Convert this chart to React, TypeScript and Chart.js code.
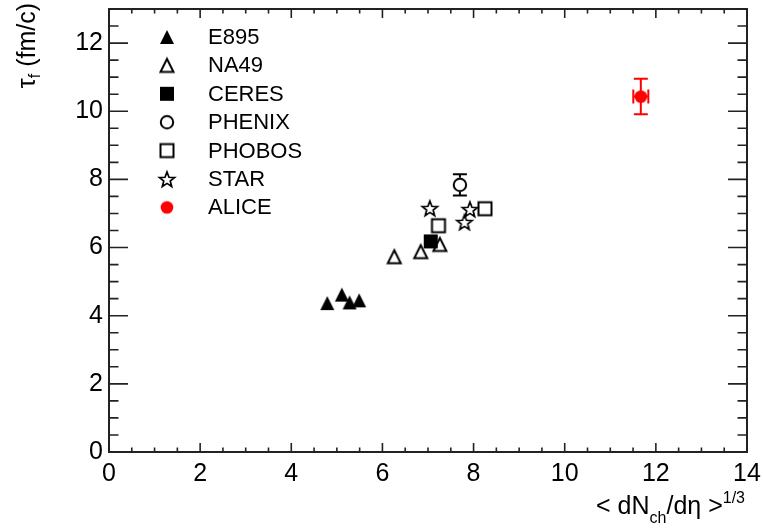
import React, { useEffect, useRef } from 'react';
import { Chart, registerables } from 'chart.js';

Chart.register(...registerables);

const FONT = '"Liberation Sans", Arial, Helvetica, sans-serif';

// ---- data ----
const e895X = [4.79, 5.11, 5.28, 5.49];
const e895Y = [4.37, 4.62, 4.39, 4.45];
const na49X = [6.26, 6.84, 7.26];
const na49Y = [5.73, 5.88, 6.09];
const ceresX = [7.06];
const ceresY = [6.18];
const phenixX = [7.7];
const phenixY = [7.84];
const phenixErrY = [0.31];
const phobosX = [7.23, 8.25];
const phobosY = [6.64, 7.14];
const starX = [7.04, 7.92, 7.8];
const starY = [7.16, 7.13, 6.75];
const aliceX = [11.67];
const aliceY = [10.43];
const aliceErrX = [0.165];
const aliceErrY = [0.52];

const legendLabels = ['E895', 'NA49', 'CERES', 'PHENIX', 'PHOBOS', 'STAR', 'ALICE'];
const xTickValues = [0, 2, 4, 6, 8, 10, 12, 14];
const yTickValues = [0, 2, 4, 6, 8, 10, 12];

type MarkerKind = 'triFilled' | 'triOpen' | 'sqFilled' | 'circOpen' | 'sqOpen' | 'starOpen' | 'circRed';

function makeMarker(kind: MarkerKind): HTMLCanvasElement {
  const S = 24;
  const c = document.createElement('canvas');
  c.width = S;
  c.height = S;
  const ctx = c.getContext('2d') as CanvasRenderingContext2D;
  const m = S / 2;
  ctx.lineWidth = 2;
  ctx.strokeStyle = '#000';
  ctx.fillStyle = '#000';
  ctx.lineJoin = 'miter';
  switch (kind) {
    case 'triFilled': {
      const s = 7;
      ctx.beginPath();
      ctx.moveTo(m, m - s);
      ctx.lineTo(m + s, m + s);
      ctx.lineTo(m - s, m + s);
      ctx.closePath();
      ctx.fill();
      break;
    }
    case 'triOpen': {
      const s = 6.5;
      ctx.beginPath();
      ctx.moveTo(m, m - s);
      ctx.lineTo(m + s, m + s);
      ctx.lineTo(m - s, m + s);
      ctx.closePath();
      ctx.stroke();
      break;
    }
    case 'sqFilled': {
      const s = 7;
      ctx.fillRect(m - s, m - s, 2 * s, 2 * s);
      break;
    }
    case 'circOpen': {
      ctx.beginPath();
      ctx.arc(m, m, 6.2, 0, Math.PI * 2);
      ctx.stroke();
      break;
    }
    case 'sqOpen': {
      const s = 6.5;
      ctx.strokeRect(m - s, m - s, 2 * s, 2 * s);
      break;
    }
    case 'starOpen': {
      const ro = 8;
      const ri = 3.4;
      ctx.beginPath();
      for (let i = 0; i < 10; i++) {
        const r = i % 2 === 0 ? ro : ri;
        const a = -Math.PI / 2 + (i * Math.PI) / 5;
        const px = m + r * Math.cos(a);
        const py = m + 1 + r * Math.sin(a);
        if (i === 0) ctx.moveTo(px, py);
        else ctx.lineTo(px, py);
      }
      ctx.closePath();
      ctx.lineWidth = 1.7;
      ctx.stroke();
      break;
    }
    case 'circRed': {
      ctx.fillStyle = '#ff0000';
      ctx.beginPath();
      ctx.arc(m, m, 6.3, 0, Math.PI * 2);
      ctx.fill();
      break;
    }
  }
  return c;
}

const toPts = (xs: number[], ys: number[]) => xs.map((x, i) => ({ x, y: ys[i] }));

const framePlugin = {
  id: 'rootFrame',
  beforeDatasetsDraw(chart: any) {
    const { ctx, chartArea: a, scales } = chart;
    const xs = scales.x;
    const ys = scales.y;
    ctx.save();
    ctx.strokeStyle = '#222';
    ctx.lineWidth = 2;
    ctx.strokeRect(a.left, a.top, a.right - a.left, a.bottom - a.top);
    ctx.lineWidth = 1.6;
    ctx.beginPath();
    for (let v = 0; v <= 14.0001; v += 0.5) {
      const px = xs.getPixelForValue(v);
      const major = Math.abs(v / 2 - Math.round(v / 2)) < 1e-6;
      const len = major ? 9 : 4.5;
      ctx.moveTo(px, a.bottom);
      ctx.lineTo(px, a.bottom - len);
      ctx.moveTo(px, a.top);
      ctx.lineTo(px, a.top + len);
    }
    for (let v = 0; v <= 13.0001; v += 0.5) {
      const py = ys.getPixelForValue(v);
      const major = Math.abs(v / 2 - Math.round(v / 2)) < 1e-6;
      const len = major ? 19 : 9.5;
      ctx.moveTo(a.left, py);
      ctx.lineTo(a.left + len, py);
      ctx.moveTo(a.right, py);
      ctx.lineTo(a.right - len, py);
    }
    ctx.stroke();
    ctx.restore();
  },
};

const errorPlugin = {
  id: 'errBars',
  afterDatasetsDraw(chart: any) {
    const { ctx, scales } = chart;
    const xs = scales.x;
    const ys = scales.y;
    const drawV = (x: number, y: number, e: number, color: string, half: number) => {
      const px = xs.getPixelForValue(x);
      const py = ys.getPixelForValue(y);
      const top = ys.getPixelForValue(y + e);
      const bot = ys.getPixelForValue(y - e);
      ctx.strokeStyle = color;
      ctx.lineWidth = 2;
      ctx.beginPath();
      ctx.moveTo(px, py - half);
      ctx.lineTo(px, top);
      ctx.moveTo(px, py + half);
      ctx.lineTo(px, bot);
      ctx.moveTo(px - 7, top);
      ctx.lineTo(px + 7, top);
      ctx.moveTo(px - 7, bot);
      ctx.lineTo(px + 7, bot);
      ctx.stroke();
    };
    const drawH = (x: number, y: number, e: number, color: string, half: number) => {
      const px = xs.getPixelForValue(x);
      const py = ys.getPixelForValue(y);
      const l = xs.getPixelForValue(x - e);
      const r = xs.getPixelForValue(x + e);
      ctx.strokeStyle = color;
      ctx.lineWidth = 2;
      ctx.beginPath();
      ctx.moveTo(px - half, py);
      ctx.lineTo(l, py);
      ctx.moveTo(px + half, py);
      ctx.lineTo(r, py);
      ctx.moveTo(l, py - 7);
      ctx.lineTo(l, py + 7);
      ctx.moveTo(r, py - 7);
      ctx.lineTo(r, py + 7);
      ctx.stroke();
    };
    ctx.save();
    phenixX.forEach((x, i) => drawV(x, phenixY[i], phenixErrY[i], '#000', 7));
    aliceX.forEach((x, i) => {
      drawV(x, aliceY[i], aliceErrY[i], '#ff0000', 5);
      drawH(x, aliceY[i], aliceErrX[i], '#ff0000', 5);
    });
    ctx.restore();
  },
};

function makeTextPlugin(markers: HTMLCanvasElement[]) {
  return {
    id: 'rootText',
    afterDraw(chart: any) {
      const { ctx } = chart;
      ctx.save();
      ctx.fillStyle = '#000';
      // legend
      ctx.font = `22px ${FONT}`;
      ctx.textBaseline = 'middle';
      ctx.textAlign = 'left';
      legendLabels.forEach((lab, i) => {
        const cy = 37 + i * 28.4;
        const mk = markers[i];
        ctx.drawImage(mk, 167 - mk.width / 2, cy - mk.height / 2);
        ctx.fillText(lab, 208, cy + 1);
      });
      // x title, right aligned
      const main = `25px ${FONT}`;
      const small = `16px ${FONT}`;
      const parts: [string, string, number][] = [
        ['< dN', main, 0],
        ['ch', small, 9],
        ['/d\u03b7 >', main, 0],
        ['1/3', small, -11],
      ];
      ctx.textBaseline = 'alphabetic';
      let total = 0;
      parts.forEach(([t, f]) => {
        ctx.font = f;
        total += ctx.measureText(t).width;
      });
      let x = 745 - total;
      const base = 514;
      parts.forEach(([t, f, dy]) => {
        ctx.font = f;
        ctx.fillText(t, x, base + dy);
        x += ctx.measureText(t).width;
      });
      // y title, rotated, aligned to top
      const yparts: [string, string, number][] = [
        ['\u03c4', main, 0],
        ['f', small, 5],
        [' (fm/c)', main, 0],
      ];
      ctx.save();
      ctx.translate(35, 3);
      ctx.rotate(-Math.PI / 2);
      let tw = 0;
      yparts.forEach(([t, f]) => {
        ctx.font = f;
        tw += ctx.measureText(t).width;
      });
      let yx = -tw;
      yparts.forEach(([t, f, dy]) => {
        ctx.font = f;
        ctx.fillText(t, yx, dy);
        yx += ctx.measureText(t).width;
      });
      ctx.restore();
      ctx.restore();
    },
  };
}

const zeroPad = (s: any) => {
  s.paddingTop = 0;
  s.paddingBottom = 0;
  s.paddingLeft = 0;
  s.paddingRight = 0;
};

export default function App() {
  const ref = useRef<HTMLCanvasElement | null>(null);
  useEffect(() => {
    document.body.style.margin = '0';
    const canvas = ref.current;
    if (!canvas) return;
    const markers = [
      makeMarker('triFilled'),
      makeMarker('triOpen'),
      makeMarker('sqFilled'),
      makeMarker('circOpen'),
      makeMarker('sqOpen'),
      makeMarker('starOpen'),
      makeMarker('circRed'),
    ];
    const series = [
      toPts(e895X, e895Y),
      toPts(na49X, na49Y),
      toPts(ceresX, ceresY),
      toPts(phenixX, phenixY),
      toPts(phobosX, phobosY),
      toPts(starX, starY),
      toPts(aliceX, aliceY),
    ];
    const chart = new Chart(canvas, {
      type: 'scatter',
      data: {
        datasets: series.map((data, i) => ({
          label: legendLabels[i],
          data,
          pointStyle: markers[i] as any,
          pointRadius: 6,
          pointHoverRadius: 6,
          showLine: false,
        })),
      },
      options: {
        animation: false,
        responsive: false,
        devicePixelRatio: 1,
        events: [],
        layout: { padding: { top: 9, right: 16, left: 0, bottom: 0 } },
        plugins: {
          legend: { display: false },
          tooltip: { enabled: false },
          title: { display: false },
        },
        scales: {
          x: {
            type: 'linear',
            min: 0,
            max: 14,
            afterBuildTicks: (s: any) => {
              s.ticks = xTickValues.map((v) => ({ value: v }));
            },
            afterFit: (s: any) => {
              s.height = 76;
              zeroPad(s);
            },
            ticks: {
              font: { family: FONT, size: 25 },
              color: '#000',
              padding: 7,
              maxRotation: 0,
              autoSkip: false,
            },
            grid: { display: false, drawTicks: false },
            border: { display: false },
          },
          y: {
            type: 'linear',
            min: 0,
            max: 13,
            afterBuildTicks: (s: any) => {
              s.ticks = yTickValues.map((v) => ({ value: v }));
            },
            afterFit: (s: any) => {
              s.width = 109;
              zeroPad(s);
            },
            ticks: {
              font: { family: FONT, size: 25 },
              color: '#000',
              padding: 6,
              autoSkip: false,
            },
            grid: { display: false, drawTicks: false },
            border: { display: false },
          },
        },
      },
      plugins: [framePlugin, errorPlugin, makeTextPlugin(markers)],
    });
    return () => chart.destroy();
  }, []);
  return (
    <div style={{ width: 763, height: 528 }}>
      <canvas ref={ref} width={763} height={528} style={{ display: 'block' }} />
    </div>
  );
}
